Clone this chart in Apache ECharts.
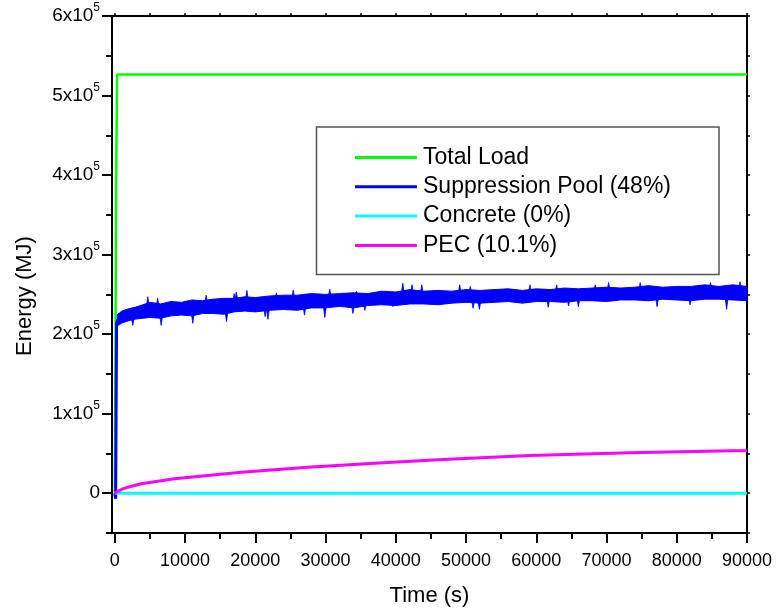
<!DOCTYPE html>
<html>
<head>
<meta charset="utf-8">
<script src="https://cdn.jsdelivr.net/npm/echarts@6/dist/echarts.min.js"></script>
<style>
  html, body { margin: 0; padding: 0; background: #fff; }
  #myChart { width: 776px; height: 609px; }
</style>
</head>
<body>
<div id="myChart"></div>
<script>
// series names as in legend
const seriesNames = ['Total Load', 'Suppression Pool (48%)', 'Concrete (0%)', 'PEC (10.1%)'];

// Total Load (MJ)
const totalTime = [0, 200, 330, 90000];
const totalLoad = [0, 400000, 526300, 526300];

// Suppression Pool: initial rise, then noisy band (upper / lower edge)
const poolRiseTime = [0, 120, 250, 400];
const poolRise = [0, -7000, 214000, 218000];
const poolTime = [300, 1000, 2000, 3000, 4000, 5000, 6500, 8000, 9500, 11000, 12500, 14000, 15500, 17000, 18500,
    20000, 22000, 24000, 26000, 28000, 30000, 32000, 34000, 36000, 38000, 40000, 42000, 44000, 46000, 48000,
    50000, 52000, 54000, 56000, 58000, 60000, 62000, 64000, 66000, 68000, 70000, 72000, 74000, 76000, 78000,
    80000, 82000, 84000, 86000, 88000, 90000];
const poolUpper = [224000, 229000, 232000, 234000, 237000, 240000, 238000, 241000, 240000, 243000, 242000, 244000,
    245000, 245000, 247000, 246000, 248000, 249000, 249000, 251000, 250000, 251000, 252000, 251000, 254000, 253000,
    256000, 254000, 255000, 254000, 256000, 255000, 256000, 257000, 255000, 257000, 256000, 258000, 257000, 258000,
    259000, 258000, 259000, 261000, 259000, 260000, 260000, 262000, 260000, 262000, 260000];
const poolLower = [210000, 214000, 217000, 219000, 220000, 221000, 220000, 223000, 224000, 223000, 226000, 226000,
    225000, 228000, 229000, 228000, 230000, 231000, 230000, 233000, 233000, 235000, 233000, 236000, 237000, 236000,
    238000, 238000, 237000, 239000, 240000, 239000, 240000, 241000, 239000, 241000, 241000, 240000, 242000, 242000,
    241000, 243000, 243000, 242000, 244000, 243000, 242000, 244000, 244000, 243000, 242000];
// single spikes out of the band (time, peak value)
const spikeTime = [2560, 4700, 6100, 6600, 11100, 13000, 15900, 17000, 17300, 18800, 21400, 21800, 23000, 25400,
    27000, 29900, 30600, 33900, 34400, 35600, 39600, 41000, 42300, 43700, 49100, 50600, 51000, 51900, 59100,
    61700, 62900, 64600, 66000, 68400, 70300, 74800, 77200, 81900, 84800, 87100, 89000];
const spikeValue = [211000, 247000, 245000, 211000, 213600, 249000, 215600, 251000, 253000, 255000, 222000, 218600,
    252000, 255600, 224000, 221000, 256500, 226000, 254000, 230000, 234600, 264000, 262000, 262000, 262000, 260000,
    232600, 231000, 262000, 233800, 262000, 235400, 234600, 262000, 265000, 264800, 234600, 236700, 264800, 231300,
    266000];

// Concrete
const concreteTime = [0, 90000];
const concrete = [0, 0];

// PEC
const pecTime = [0, 430, 1140, 1850, 3750, 8500, 18000, 27500, 37000, 46000, 59100, 73400, 89700, 90000];
const pec = [0, 2500, 5500, 7600, 11900, 18100, 26500, 32800, 37800, 42100, 47500, 50900, 53800, 53900];

// ticks
const xMajorTicks = [0, 10000, 20000, 30000, 40000, 50000, 60000, 70000, 80000, 90000];
const xMinorTicks = [5000, 15000, 25000, 35000, 45000, 55000, 65000, 75000, 85000];
const yMajorTicks = [0, 100000, 200000, 300000, 400000, 500000, 600000];
const yMinorTicks = [-50000, 50000, 150000, 250000, 350000, 450000, 550000];

const colors = ['#00ff00', '#0000ff', '#00ffff', '#ff00ff'];
const font = 'Liberation Sans, Arial, sans-serif';

const pairs = (xs, ys) => xs.map((x, i) => [x, ys[i]]);

// middle of the band at time t (linear between the read points)
const bandMid = t => {
    let i = poolTime.findIndex(p => p >= t);
    if (i <= 0) i = 1;
    const f = (t - poolTime[i - 1]) / (poolTime[i] - poolTime[i - 1]);
    const up = poolUpper[i - 1] + f * (poolUpper[i] - poolUpper[i - 1]);
    const lo = poolLower[i - 1] + f * (poolLower[i] - poolLower[i - 1]);
    return (up + lo) / 2;
};

let myChart = echarts.init(document.getElementById('myChart'));

const lineSeries = (name, data, color, width) => ({
    name,
    type: 'line',
    data,
    showSymbol: false,
    symbol: 'none',
    animation: false,
    itemStyle: {color},
    lineStyle: {color, width},
    emphasis: {disabled: true}
});

const axisBase = {
    type: 'value',
    splitLine: {show: false},
    axisLine: {show: true, onZero: false, lineStyle: {color: '#000', width: 2}},
};
const noLine = {show: false, onZero: false};

let option = {
    backgroundColor: '#fff',
    animation: false,
    grid: {left: 112, right: 29, top: 16, bottom: 76, outerBoundsMode: 'none', containLabel: false},
    xAxis: [
        {
            ...axisBase,
            position: 'bottom',
            min: -400, max: 90000,
            name: 'Time (s)',
            nameLocation: 'middle',
            nameGap: 52,
            nameTextStyle: {fontFamily: font, fontSize: 22, color: '#000'},
            axisTick: {show: true, length: 10, customValues: xMajorTicks, lineStyle: {color: '#000', width: 2}},
            axisLabel: {customValues: xMajorTicks, margin: 19, fontFamily: font, fontSize: 18, color: '#000',
                formatter: v => String(v)}
        },
        {
            ...axisBase,
            position: 'bottom',
            min: -400, max: 90000,
            axisLine: noLine,
            axisTick: {show: true, length: 6, customValues: xMinorTicks, lineStyle: {color: '#000', width: 2}},
            axisLabel: {show: false}
        },
        {
            ...axisBase,
            position: 'top',
            min: -400, max: 90000,
            axisTick: {show: true, length: 3, customValues: xMajorTicks.concat(xMinorTicks), lineStyle: {color: '#000', width: 1.5}},
            axisLabel: {show: false}
        }
    ],
    yAxis: [
        {
            ...axisBase,
            position: 'left',
            min: -50000, max: 600000,
            axisTick: {show: true, length: 10, customValues: yMajorTicks, lineStyle: {color: '#000', width: 2}},
            axisLabel: {
                customValues: yMajorTicks,
                margin: 12,
                color: '#000',
                formatter: v => v === 0 ? '{n|0}' : `{n|${v / 100000}x10}{s|5}`,
                rich: {
                    n: {fontFamily: font, fontSize: 19, lineHeight: 28, color: '#000'},
                    s: {fontFamily: font, fontSize: 12, lineHeight: 12, verticalAlign: 'top', color: '#000'}
                }
            }
        },
        {
            ...axisBase,
            position: 'left',
            min: -50000, max: 600000,
            axisLine: noLine,
            axisTick: {show: true, length: 6, customValues: yMinorTicks, lineStyle: {color: '#000', width: 2}},
            axisLabel: {show: false}
        },
        {
            ...axisBase,
            position: 'right',
            min: -50000, max: 600000,
            axisTick: {show: true, length: 3, customValues: yMajorTicks.concat(yMinorTicks), lineStyle: {color: '#000', width: 1.5}},
            axisLabel: {show: false}
        }
    ],
    legend: {
        orient: 'vertical',
        left: 350,
        top: 141,
        itemWidth: 62,
        itemHeight: 3,
        itemGap: 6.3,
        icon: 'rect',
        selectedMode: false,
        data: seriesNames,
        textStyle: {fontFamily: font, fontSize: 23, lineHeight: 23, color: '#000', padding: [0, 0, 0, 1]}
    },
    graphic: [
        {
            type: 'rect',
            shape: {x: 316.5, y: 127, width: 402.5, height: 147.5},
            style: {fill: 'none', stroke: '#555', lineWidth: 1.5},
            z: 10
        },
        {
            type: 'text',
            x: 25, y: 296,
            rotation: Math.PI / 2,
            style: {text: 'Energy (MJ)', fontFamily: font, fontSize: 22, fill: '#000', align: 'center', verticalAlign: 'middle'}
        }
    ],
    series: [
        lineSeries(seriesNames[0], pairs(totalTime, totalLoad), colors[0], 2.5),
        lineSeries(seriesNames[1], pairs(poolRiseTime, poolRise), colors[1], 3),
        {
            type: 'custom',
            animation: false,
            silent: true,
            data: [[poolTime[0], poolUpper[0]]],
            encode: {x: 0, y: 1},
            renderItem: (params, api) => {
                const pts = [];
                poolTime.forEach((t, i) => pts.push(api.coord([t, poolUpper[i]])));
                for (let i = poolTime.length - 1; i >= 0; i--) pts.push(api.coord([poolTime[i], poolLower[i]]));
                const children = [{
                    type: 'polygon',
                    shape: {points: pts},
                    style: {fill: colors[1], stroke: colors[1], lineWidth: 1}
                }];
                spikeTime.forEach((t, i) => {
                    const mid = bandMid(t);
                    children.push({
                        type: 'polygon',
                        shape: {points: [api.coord([t - 300, mid]), api.coord([t, spikeValue[i]]), api.coord([t + 300, mid])]},
                        style: {fill: colors[1], stroke: colors[1], lineWidth: 0.8}
                    });
                });
                return {type: 'group', children};
            }
        },
        lineSeries(seriesNames[2], pairs(concreteTime, concrete), colors[2], 3),
        lineSeries(seriesNames[3], pairs(pecTime, pec), colors[3], 3)
    ]
};

myChart.setOption(option);
</script>
</body>
</html>
